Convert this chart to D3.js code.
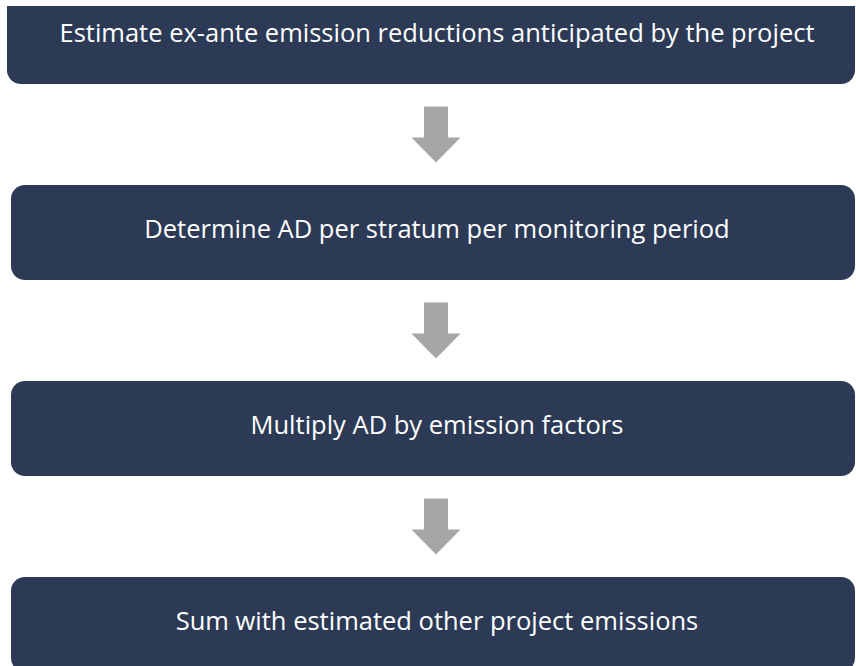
<!DOCTYPE html>
<html>
<head>
<meta charset="utf-8">
<script src="https://cdn.jsdelivr.net/npm/d3@7"></script>
<style>
  body { margin: 0; background: #fff; }
  svg { display: block; }
  .step-label { font-family: "Open Sans", sans-serif; font-size: 25.5px; fill: #fff; }
</style>
</head>
<body>
<svg id="chart"></svg>
<script>
// steps of the flow, top to bottom
var steps = [
  "Estimate ex-ante emission reductions anticipated by the project",
  "Determine AD per stratum per monitoring period",
  "Multiply AD by emission factors",
  "Sum with estimated other project emissions"
];
var stepIndex = d3.range(steps.length);

var svgWidth = 856, svgHeight = 666;
var boxHeight = 95, radius = 14;

var svg = d3.select("#chart")
  .attr("width", svgWidth)
  .attr("height", svgHeight);

// first box is cut at the top of the picture
svg.append("clipPath").attr("id", "pageclip")
  .append("rect")
  .attr("x", 0).attr("y", 6)
  .attr("width", svgWidth).attr("height", svgHeight);

// vertical position of each box top
var yScale = d3.scaleLinear()
  .domain([0, steps.length - 1])
  .range([-11, 577]);

var xLeft = 11, xRight = 855;

var plot = svg.append("g").attr("clip-path", "url(#pageclip)");

var boxes = plot.selectAll("g.step")
  .data(stepIndex)
  .enter().append("g")
  .attr("class", "step");

boxes.append("rect")
  .attr("x", (d) => d == 0 ? 7 : xLeft)
  .attr("y", d => yScale(d))
  .attr("width", (d) => xRight - (d == 0 ? 7 : xLeft))
  .attr("height", boxHeight)
  .attr("rx", radius)
  .attr("fill", "#2c3a55");

boxes.append("text")
  .attr("class", "step-label")
  .attr("x", 437)
  .attr("y", d => yScale(d) + boxHeight / 2 - 3)
  .attr("dy", "0.35em")
  .attr("text-anchor", "middle")
  .text(d => steps[d]);

// arrows between boxes
var shaftW = 24, headW = 49, shaftLen = 31, headLen = 25;
var arrowX = 436;

var arrows = plot.selectAll("path.arrow")
  .data(stepIndex.slice(0, -1))
  .enter().append("path")
  .attr("class", "arrow")
  .attr("fill", "#a6a6a6")
  .attr("d", function(d) {
    var top = yScale(d) + boxHeight + 22.5;
    var p = d3.path();
    p.moveTo(arrowX - shaftW / 2, top);
    p.lineTo(arrowX + shaftW / 2, top);
    p.lineTo(arrowX + shaftW / 2, top + shaftLen);
    p.lineTo(arrowX + headW / 2, top + shaftLen);
    p.lineTo(arrowX, top + shaftLen + headLen);
    p.lineTo(arrowX - headW / 2, top + shaftLen);
    p.lineTo(arrowX - shaftW / 2, top + shaftLen);
    p.closePath();
    return p.toString();
  });
</script>
</body>
</html>
